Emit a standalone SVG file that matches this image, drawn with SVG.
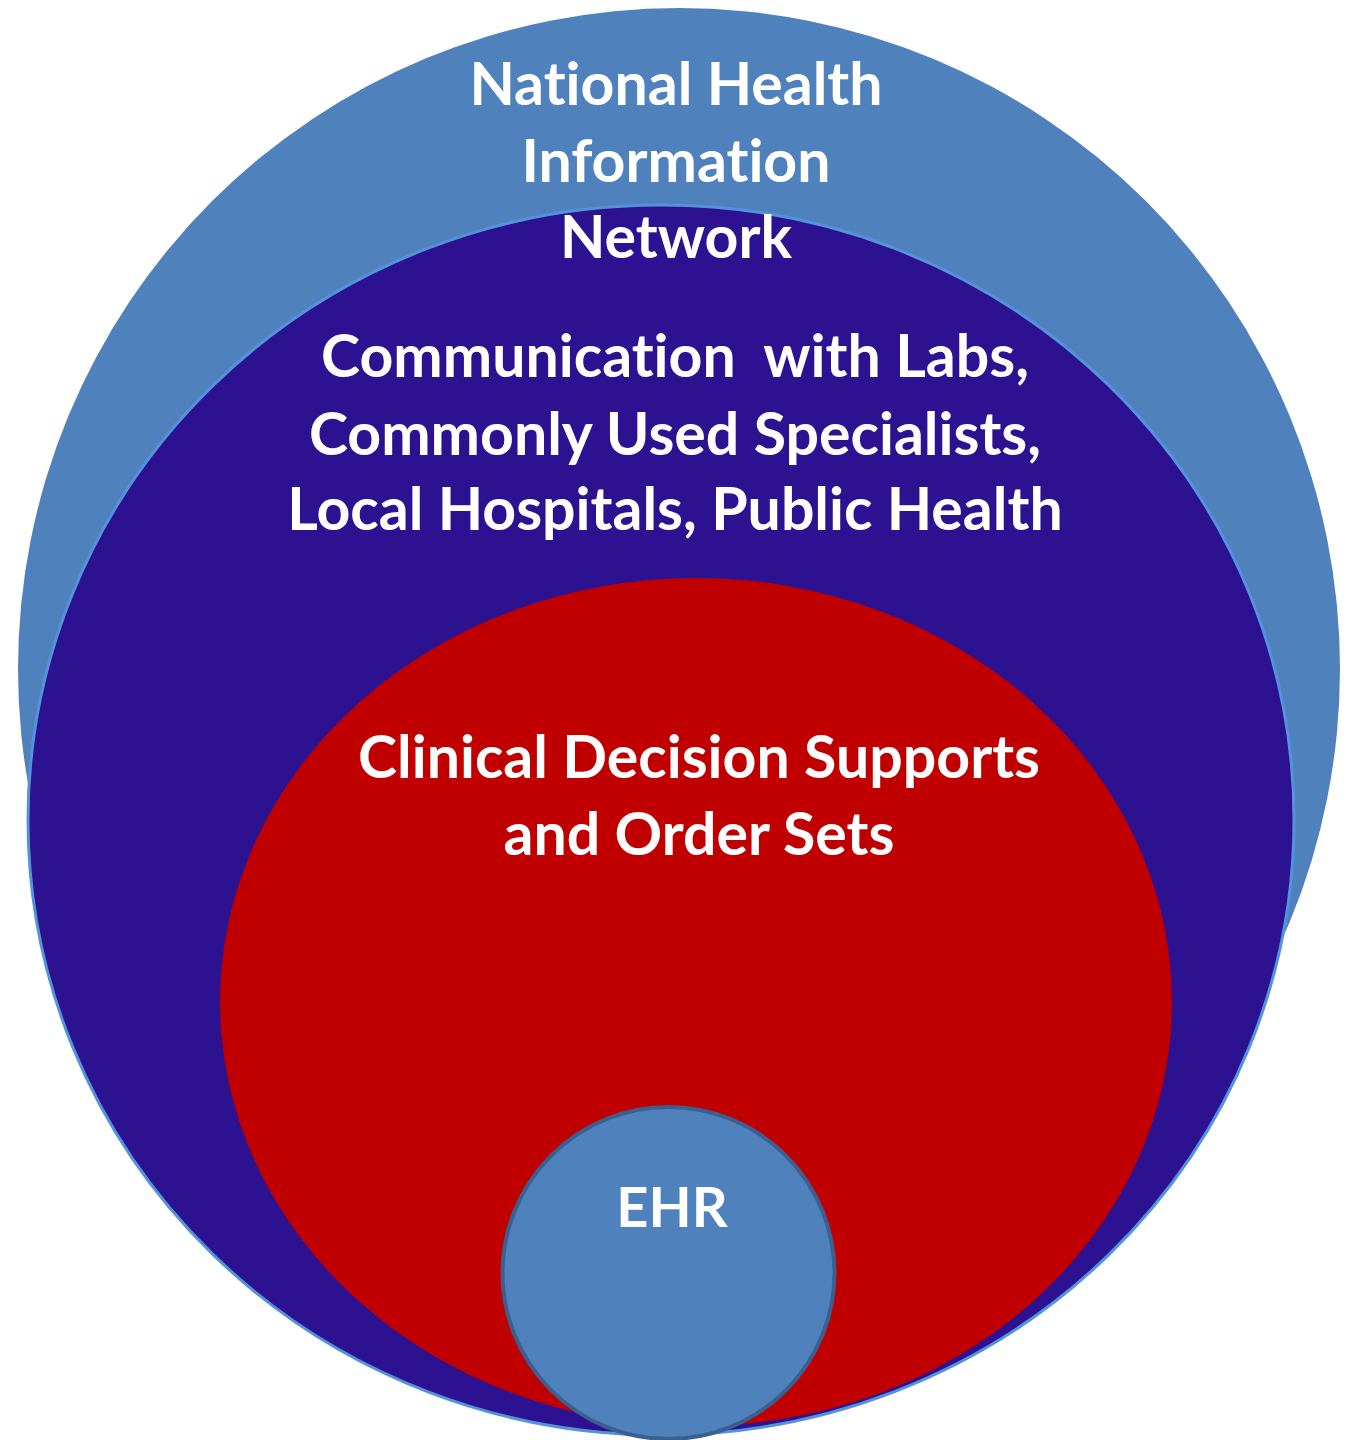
<svg xmlns="http://www.w3.org/2000/svg" width="1346" height="1440" viewBox="0 0 1346 1440">
<style>
.lbl{font-family:Lato,"Open Sans","Liberation Sans",sans-serif;font-weight:bold;fill:#ffffff;text-anchor:middle;font-size:59px;font-variant-ligatures:none;font-feature-settings:"liga" 0}
.sm{font-size:56px}
</style>
<rect width="1346" height="1440" fill="#ffffff"/>
<g id="nhin">
  <circle cx="679" cy="669" r="661" fill="#4f81bd"/>
  <g id="communication">
    <ellipse cx="661" cy="820" rx="633" ry="615" fill="#2c1190" stroke="#5592dc" stroke-width="3"/>
    <g id="cds">
      <ellipse cx="696" cy="1002" rx="476" ry="424" fill="#c00000"/>
      <g id="ehr">
        <circle cx="668.5" cy="1273" r="166" fill="#4f81bd" stroke="#3b6090" stroke-width="4"/>
        <text class="lbl sm" x="672" y="1227">EHR</text>
      </g>
      <text class="lbl" x="699" y="778">Clinical Decision Supports</text>
      <text class="lbl" x="699" y="855">and Order Sets</text>
    </g>
    <text class="lbl" x="675" y="377" xml:space="preserve">Communication  with Labs,</text>
    <text class="lbl" x="675" y="455">Commonly Used Specialists,</text>
    <text class="lbl" x="675" y="530">Local Hospitals, Public Health</text>
  </g>
  <text class="lbl" x="676" y="105">National Health</text>
  <text class="lbl" x="676" y="182">Information</text>
  <text class="lbl" x="676" y="258">Network</text>
</g>
<g id="connectors"/>
</svg>
